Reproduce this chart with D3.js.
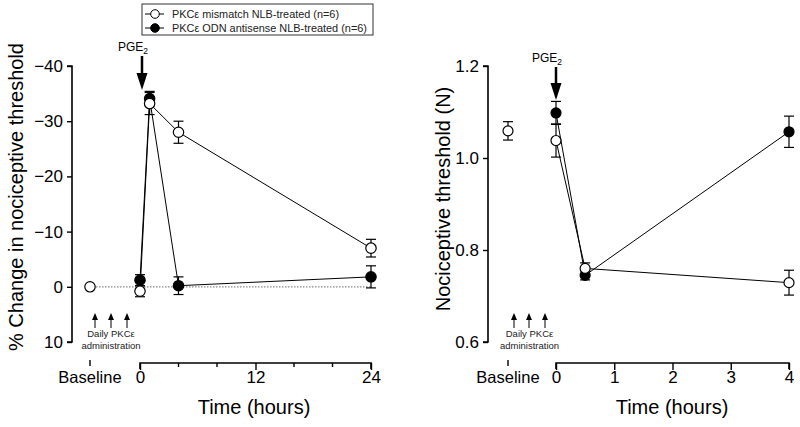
<!DOCTYPE html>
<html><head><meta charset="utf-8">
<script src="https://cdn.jsdelivr.net/npm/d3@7"></script>
<style>body{margin:0;background:#fff}svg{font-family:"Liberation Sans",Arial,sans-serif}</style>
</head><body><svg id="c" width="800" height="427"></svg>
<script>
// Left panel: % change (time in hours)
const leftTimes = [0, 1, 4, 24];
const leftMismatch = [0.8, -33.2, -28.0, -7.0];
const leftMismatchErr = [1.0, 2.0, 2.0, 1.6];
const leftAntisense = [-1.2, -34.1, -0.2, -1.8];
const leftAntisenseErr = [1.0, 1.3, 1.6, 2.0];
const leftBaselineMismatch = 0;
const leftYTicks = [-40, -30, -20, -10, 0, 10];
const leftXTicks = [0, 12, 24];
const leftXMinor = [4, 8, 16, 20];

// Right panel: threshold (N)
const rightTimes = [0, 0.5, 4];
const rightMismatch = [1.038, 0.760, 0.729];
const rightMismatchErr = [0.036, 0.012, 0.027];
const rightAntisense = [1.098, 0.745, 1.057];
const rightAntisenseErr = [0.025, 0.01, 0.034];
const rightBaselineMismatch = 1.059;
const rightBaselineErr = 0.02;
const rightYTicks = [0.6, 0.8, 1.0, 1.2];
const rightXTicks = [0, 1, 2, 3, 4];

const legendLabels = ["PKC\u03b5 mismatch NLB-treated (n=6)", "PKC\u03b5 ODN antisense NLB-treated (n=6)"];

const svg = d3.select("#c");
const FONT = "Liberation Sans, Arial, sans-serif";

function panel(o) {
  const g = svg.append("g");
  const y = d3.scaleLinear().domain(o.yDomain).range([342, 66]);
  const x = d3.scaleLinear().domain(o.xDomain).range(o.xRange);
  // y axis
  const ya = g.append("g").attr("transform", `translate(${o.yAxisX},0)`)
    .call(d3.axisLeft(y).tickValues(o.yTicks).tickSize(5).tickFormat(o.yFmt));
  ya.select(".domain").attr("stroke-width", 1.6).attr("d", `M-5,${y.range()[0]}H0V${y.range()[1]}H-5`);
  ya.selectAll(".tick line").attr("stroke-width", 1.4);
  ya.selectAll("text").attr("font-size", 17).attr("fill", "#000").attr("dx", -1).attr("font-family", FONT);
  // x axis
  const xa = g.append("g").attr("transform", `translate(0,363)`)
    .call(d3.axisBottom(x).tickValues(o.xTicks).tickSize(7).tickFormat(d3.format("d")));
  xa.select(".domain").attr("stroke-width", 1.6).attr("d", `M${o.xRange[0]},6V0H${o.xRange[1]}V6`);
  xa.selectAll(".tick line").attr("stroke-width", 1.4);
  xa.selectAll("text").attr("font-size", 17).attr("fill", "#000").attr("y", 20).attr("dy", 0).attr("font-family", FONT);
  if (o.xMinor) {
    g.append("g").selectAll("line").data(o.xMinor).join("line")
      .attr("x1", d => x(d)).attr("x2", d => x(d)).attr("y1", 363).attr("y2", 367)
      .attr("stroke", "#000").attr("stroke-width", 1.4);
  }
  // baseline tick and label
  g.append("line").attr("x1", o.baseX).attr("x2", o.baseX).attr("y1", 360).attr("y2", 366).attr("stroke", "#000").attr("stroke-width", 1.4);
  g.append("text").attr("x", o.baseX).attr("y", 383).attr("text-anchor", "middle").attr("font-size", 16.5).text("Baseline");
  // titles
  g.append("text").attr("x", o.xTitleX).attr("y", 414).attr("text-anchor", "middle").attr("font-size", 20).text("Time (hours)");
  g.append("text").attr("transform", `translate(${o.yTitleX},${o.yTitleY}) rotate(-90)`).attr("text-anchor", "middle").attr("font-size", 20).text(o.yTitle);

  if (o.zeroLine) {
    g.append("line").attr("x1", o.baseX).attr("x2", o.xRange[1]).attr("y1", y(0)).attr("y2", y(0))
      .attr("stroke", "#888").attr("stroke-width", 1.2).attr("stroke-dasharray", "1.5,1.5");
  }
  // daily admin arrows
  o.admX.forEach(ax => {
    g.append("line").attr("x1", ax).attr("x2", ax).attr("y1", 328).attr("y2", 318).attr("stroke", "#000").attr("stroke-width", 1);
    g.append("path").attr("d", `M${ax - 3},${320}L${ax},${313}L${ax + 3},${320}Z`).attr("fill", "#000");
  });
  const admC = (o.admX[0] + o.admX[2]) / 2;
  g.append("text").attr("x", admC).attr("y", 337).attr("text-anchor", "middle").attr("font-size", 9.5).attr("fill", "#222").text("Daily PKC\u03b5");
  g.append("text").attr("x", admC).attr("y", 349).attr("text-anchor", "middle").attr("font-size", 9.5).attr("fill", "#222").text("administration");
  // PGE2 arrow
  const px = x(0) + o.pgeDx;
  g.append("line").attr("x1", px).attr("x2", px).attr("y1", o.pgeY0).attr("y2", o.pgeY1 - 12).attr("stroke", "#000").attr("stroke-width", 2.5);
  g.append("path").attr("d", `M${px - 5.5},${o.pgeY1 - 17}L${px},${o.pgeY1}L${px + 5.5},${o.pgeY1 - 17}Z`).attr("fill", "#000");
  const t = g.append("text").attr("x", px - 24).attr("y", o.pgeY0 - 5).attr("text-anchor", "start").attr("font-size", 12);
  t.append("tspan").text("PGE");
  t.append("tspan").attr("font-size", 8.5).attr("dy", 3).text("2");

  const line = d3.line().x(d => x(d[0])).y(d => y(d[1]));
  const series = [
    { v: o.mis, e: o.misE, fill: "#fff" },
    { v: o.ant, e: o.antE, fill: "#000" }
  ];
  series.forEach(s => {
    g.append("path").datum(o.times.map((t, i) => [t, s.v[i]])).attr("d", line)
      .attr("fill", "none").attr("stroke", "#000").attr("stroke-width", 1);
  });
  // error bars
  const eb = (cx, v, e) => {
    const gg = g.append("g").attr("stroke", "#000").attr("stroke-width", 1.2);
    gg.append("line").attr("x1", cx).attr("x2", cx).attr("y1", y(v - e)).attr("y2", y(v + e));
    gg.append("line").attr("x1", cx - 5).attr("x2", cx + 5).attr("y1", y(v - e)).attr("y2", y(v - e));
    gg.append("line").attr("x1", cx - 5).attr("x2", cx + 5).attr("y1", y(v + e)).attr("y2", y(v + e));
  };
  series.forEach(s => o.times.forEach((t, i) => eb(x(t), s.v[i], s.e[i])));
  if (o.baseErr) eb(o.baseX, o.baseV, o.baseErr);
  [series[1], series[0]].forEach(s => {
    g.append("g").selectAll("circle").data(o.times.map((t, i) => [t, s.v[i]])).join("circle")
      .attr("cx", d => x(d[0])).attr("cy", d => y(d[1])).attr("r", o.r)
      .attr("fill", s.fill).attr("stroke", "#000").attr("stroke-width", 1.2);
  });
  g.append("circle").attr("cx", o.baseX).attr("cy", y(o.baseV)).attr("r", o.r)
    .attr("fill", "#fff").attr("stroke", "#000").attr("stroke-width", 1.2);
}

panel({
  yDomain: [10, -40], yTicks: leftYTicks, yFmt: d3.format("d"), yAxisX: 72,
  xDomain: [0, 24], xRange: [140, 371], xTicks: leftXTicks, xMinor: leftXMinor,
  baseX: 90, xTitleX: 254, yTitleX: 23, yTitleY: 197, yTitle: "% Change in nociceptive threshold",
  zeroLine: true, admX: [95, 111, 127], pgeDx: 2, pgeY0: 56, pgeY1: 90,
  times: leftTimes, mis: leftMismatch, misE: leftMismatchErr, ant: leftAntisense, antE: leftAntisenseErr,
  baseV: leftBaselineMismatch, baseErr: 0, r: 5.2
});
panel({
  yDomain: [0.6, 1.2], yTicks: rightYTicks, yFmt: d3.format(".1f"), yAxisX: 488,
  xDomain: [0, 4], xRange: [556, 789], xTicks: rightXTicks,
  baseX: 508, xTitleX: 672, yTitleX: 450, yTitleY: 199, yTitle: "Nociceptive threshold (N)",
  zeroLine: false, admX: [514, 529, 545], pgeDx: 0, pgeY0: 67, pgeY1: 100,
  times: rightTimes, mis: rightMismatch, misE: rightMismatchErr, ant: rightAntisense, antE: rightAntisenseErr,
  baseV: rightBaselineMismatch, baseErr: rightBaselineErr, r: 5
});

// legend
const lg = svg.append("g");
lg.append("rect").attr("x", 142).attr("y", 4).attr("width", 231).attr("height", 31).attr("fill", "#fff").attr("stroke", "#333").attr("stroke-width", 1);
const legendW = [167, 195];
legendLabels.forEach((lab, i) => {
  const yy = 14 + i * 14;
  lg.append("line").attr("x1", 145).attr("x2", 164).attr("y1", yy).attr("y2", yy).attr("stroke", "#000").attr("stroke-width", 1);
  lg.append("circle").attr("cx", 155).attr("cy", yy).attr("r", 4.3).attr("fill", i === 0 ? "#fff" : "#000").attr("stroke", "#000");
  lg.append("text").attr("x", 172).attr("y", yy + 4).attr("font-size", 11).attr("fill", "#222")
    .attr("textLength", legendW[i]).attr("lengthAdjust", "spacingAndGlyphs").text(lab);
});
</script></body></html>
